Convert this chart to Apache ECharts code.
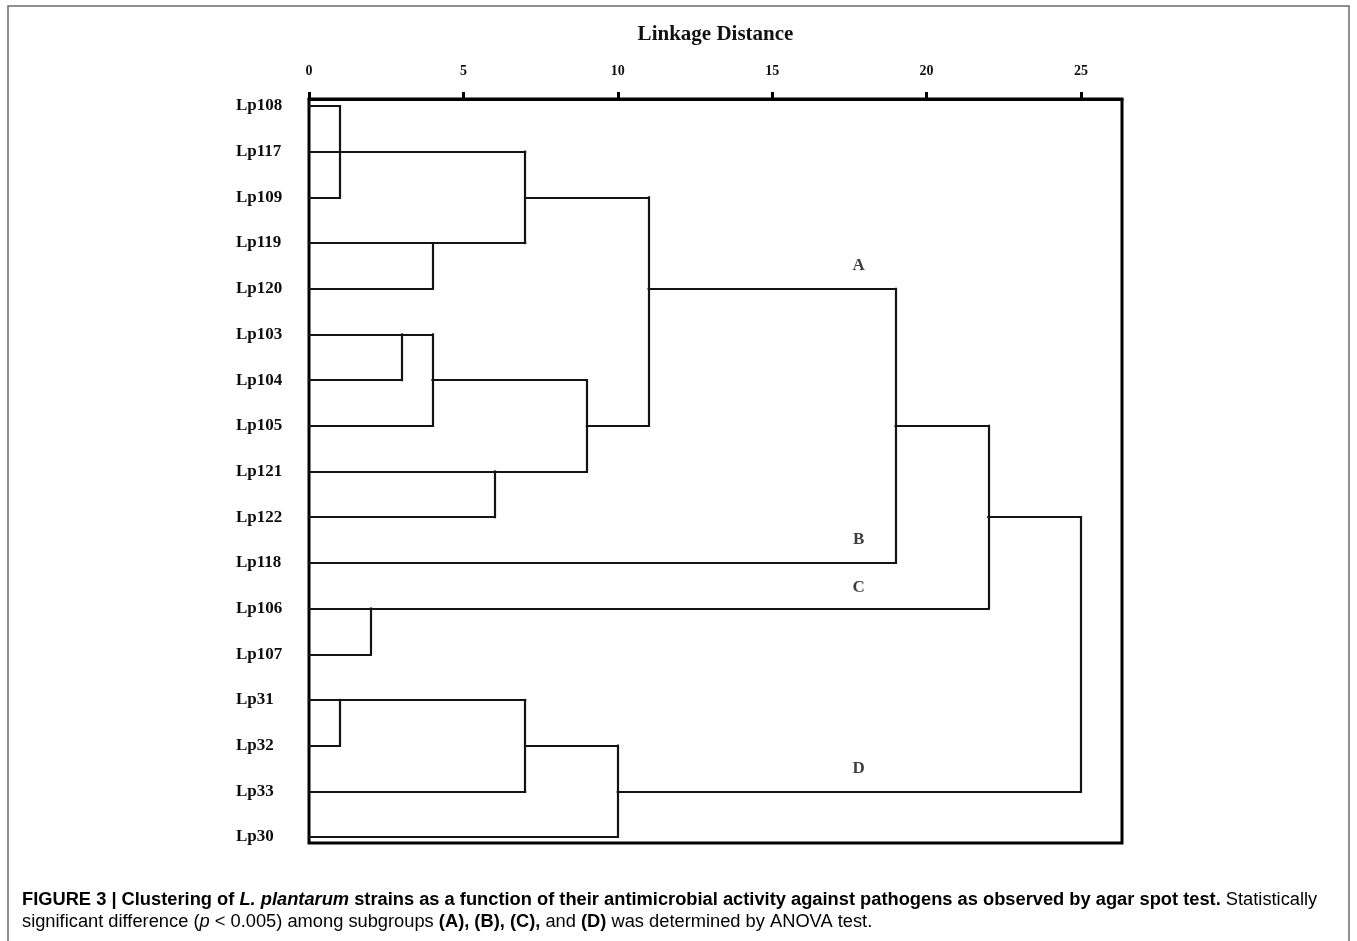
<!DOCTYPE html>
<html>
<head>
<meta charset="utf-8">
<script src="https://cdn.jsdelivr.net/npm/echarts@6/dist/echarts.min.js"></script>
<style>
  html, body { margin: 0; padding: 0; background: #fff; }
  #main { width: 1357px; height: 941px; }
</style>
</head>
<body>
<div id="main"></div>
<script>
// leaves, top to bottom
var leaves = ['Lp108', 'Lp117', 'Lp109', 'Lp119', 'Lp120', 'Lp103', 'Lp104', 'Lp105',
              'Lp121', 'Lp122', 'Lp118', 'Lp106', 'Lp107', 'Lp31', 'Lp32', 'Lp33', 'Lp30'];
// horizontal pieces: [leaf row, from distance, to distance]
var hSegs = [
  [0, 0, 1], [1, 0, 7], [2, 0, 1], [3, 0, 7], [4, 0, 4], [2, 7, 11],
  [5, 0, 4], [6, 0, 3], [6, 4, 9], [7, 0, 4], [8, 0, 9], [9, 0, 6], [7, 9, 11],
  [4, 11, 19], [10, 0, 19], [7, 19, 22], [11, 0, 22], [12, 0, 2],
  [13, 0, 7], [14, 0, 1], [14, 7, 10], [15, 0, 7], [16, 0, 10],
  [15, 10, 25], [9, 22, 25]
];
// vertical pieces: [distance, from row, to row]
var vSegs = [
  [1, 0, 2], [7, 1, 3], [4, 3, 4], [11, 2, 7], [3, 5, 6], [4, 5, 7],
  [9, 6, 8], [6, 8, 9], [19, 4, 10], [22, 7, 11], [2, 11, 12],
  [1, 13, 14], [7, 13, 15], [10, 14, 16], [25, 9, 15]
];
var groupNames = ['A', 'B', 'C', 'D'];
var groupAt = [[17.8, 3.5], [17.8, 9.5], [17.8, 10.55], [17.8, 14.5]];
var xMax = 26.33;

var myChart = echarts.init(document.getElementById('main'));

var segData = [];
hSegs.forEach(function (s) {
  segData.push({ coords: [[s[1], s[0]], [s[2], s[0]]] });
});
vSegs.forEach(function (s) {
  segData.push({ coords: [[s[0], s[1]], [s[0], s[2]]] });
});

var serif = '"Liberation Serif", "DejaVu Serif", serif';
var sans = '"Liberation Sans", Arial, sans-serif';

var option = {
  backgroundColor: '#fff',
  animation: false,
  grid: [
    { left: 309, width: 813, top: 99, height: 744, show: true,
      borderColor: '#000', borderWidth: 3, backgroundColor: 'transparent' },
    { left: 309, width: 813, top: 106, height: 731 }
  ],
  xAxis: [
    {
      gridIndex: 0, type: 'value', position: 'top',
      min: 0, max: xMax, interval: 5,
      name: 'Linkage Distance', nameLocation: 'middle', nameGap: 54,
      nameTextStyle: { fontFamily: serif, fontWeight: 'bold', fontSize: 21, color: '#111' },
      axisLine: { show: true, onZero: false, lineStyle: { color: '#000', width: 3 } },
      axisTick: { show: true, length: 7, lineStyle: { color: '#000', width: 3 } },
      axisLabel: { margin: 21, showMaxLabel: false, fontFamily: serif,
        fontWeight: 'bold', fontSize: 14, color: '#111' },
      splitLine: { show: false }
    },
    { gridIndex: 1, type: 'value', min: 0, max: xMax, show: false }
  ],
  yAxis: [
    { gridIndex: 0, type: 'value', show: false },
    {
      gridIndex: 1, type: 'value', min: 0, max: 16, interval: 1, inverse: true,
      axisLine: { show: false }, axisTick: { show: false }, splitLine: { show: false },
      axisLabel: {
        margin: 73, align: 'left', fontFamily: serif, fontWeight: 'bold', fontSize: 17, color: '#0d0d0d',
        formatter: function (v) { return leaves[v] || ''; }
      }
    }
  ],
  series: [
    {
      type: 'lines', coordinateSystem: 'cartesian2d', xAxisIndex: 1, yAxisIndex: 1,
      silent: true,
      lineStyle: { color: '#141414', width: 2.2, opacity: 1, cap: 'square' },
      data: segData
    },
    {
      type: 'scatter', xAxisIndex: 1, yAxisIndex: 1, symbolSize: 0.1,
      itemStyle: { color: 'transparent' },
      label: { show: true, position: 'inside', formatter: '{b}',
        fontFamily: serif, fontWeight: 'bold', fontSize: 17, color: '#0d0d0d' },
      data: groupNames.map(function (n, i) { return { name: n, value: groupAt[i] }; })
    }
  ],
  graphic: [
    { type: 'rect', shape: { x: 8, y: 6, width: 1341, height: 1000 },
      style: { fill: 'none', stroke: '#6a6a6a', lineWidth: 1.5 } },
    {
      type: 'text', left: 22, top: 891,
      style: {
        text: '{b|FIGURE 3 | Clustering of }{bi|L. plantarum}{b| strains as a function of their antimicrobial activity against pathogens as observed by agar spot test.}{r| Statistically}\n' +
              '{r|significant difference (}{i|p}{r| < 0.005) among subgroups }{b|(A), (B), (C),}{r| and }{b|(D)}{r| was determined by ANOVA test.}',
        rich: {
          b: { fontFamily: sans, fontWeight: 'bold', fontSize: 18.3, color: '#222', lineHeight: 22 },
          bi: { fontFamily: sans, fontWeight: 'bold', fontStyle: 'italic', fontSize: 18.3, color: '#222', lineHeight: 22 },
          r: { fontFamily: sans, fontSize: 18.3, color: '#333', lineHeight: 22 },
          i: { fontFamily: sans, fontStyle: 'italic', fontSize: 18.3, color: '#333', lineHeight: 22 }
        }
      }
    }
  ]
};

myChart.setOption(option);
</script>
</body>
</html>
